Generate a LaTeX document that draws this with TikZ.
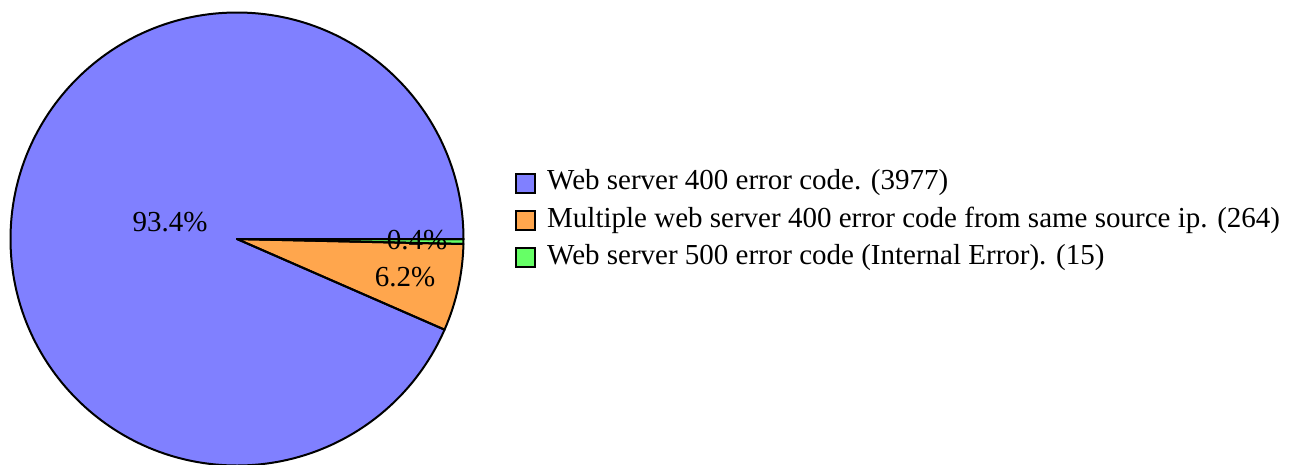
\documentclass[tikz,border=0pt]{standalone}
\usepackage{fontspec}
\setmainfont{Liberation Serif}
\definecolor{sliceA}{RGB}{128,128,255}
\definecolor{sliceB}{RGB}{255,166,77}
\definecolor{sliceC}{RGB}{102,255,102}
\begin{document}
\begin{tikzpicture}[x=1pt,y=-1pt,
  slice/.style={draw=black,line width=2pt,line join=round},
  pct/.style={font=\fontsize{29}{33}\selectfont,inner sep=0pt},
  swatch/.style={draw=black,line width=2pt,minimum size=19pt,inner sep=0pt},
  legtext/.style={font=\fontsize{29}{33}\selectfont,anchor=west,inner sep=0pt}]
\useasboundingbox (0,0) rectangle (1299,464);
\begin{scope}
\clip (0,0) rectangle (1299,464);
\coordinate (c) at (237,239);
% slices (angles measured counter-clockwise; y axis points down, so negate)
\fill[sliceA] (c) -- ++(0:226.5) arc[start angle=0,end angle=-336.4,radius=226.5] -- cycle;
\fill[sliceB] (c) -- ++(-336.4:226.5) arc[start angle=-336.4,end angle=-358.73,radius=226.5] -- cycle;
\fill[sliceC] (c) -- ++(-358.73:226.5) arc[start angle=-358.73,end angle=-360,radius=226.5] -- cycle;
\draw[slice] (c) -- ++(0:226.5) arc[start angle=0,end angle=-336.4,radius=226.5] -- cycle;
\draw[slice] (c) -- ++(-336.4:226.5) arc[start angle=-336.4,end angle=-358.73,radius=226.5] -- cycle;
\draw[slice] (c) -- ++(-358.73:226.5) arc[start angle=-358.73,end angle=-360,radius=226.5] -- cycle;
\end{scope}
\node[pct] (pA) at (170,222) {93.4\%};
\node[pct] (pB) at (405,277) {6.2\%};
\node[pct] (pC) at (417,240) {0.4\%};
% legend
\node[swatch,fill=sliceA] (sA) at (525,183) {};
\node[swatch,fill=sliceB] (sB) at (525,220.5) {};
\node[swatch,fill=sliceC] (sC) at (525,257.5) {};
\node[legtext] (tA) at (547,183) {Web server 400 error code. (3977)};
\node[legtext] (tB) at (547,220.5) {Multiple web server 400 error code from same source ip. (264)};
\node[legtext] (tC) at (547,257.5) {Web server 500 error code (Internal Error). (15)};
\end{tikzpicture}
\end{document}
